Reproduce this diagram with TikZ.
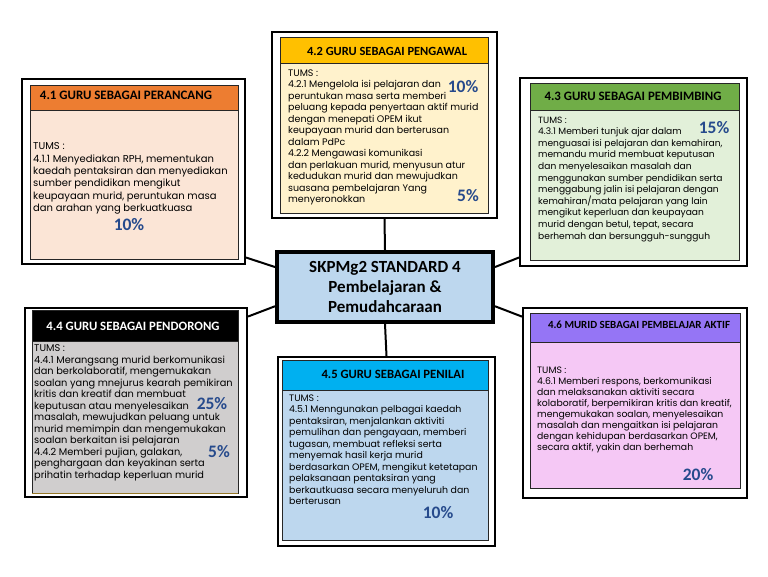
\documentclass[tikz,border=0pt]{standalone}
\usepackage{fontspec}
\setmainfont{Carlito}
\newfontfamily\bodyf{Poppins}
\usetikzlibrary{calc}
\definecolor{orangeH}{HTML}{ED7D31}
\definecolor{orangeB}{HTML}{FBE5D6}
\definecolor{goldH}{HTML}{FFC000}
\definecolor{goldB}{HTML}{FFF2CC}
\definecolor{greenH}{HTML}{70AD47}
\definecolor{greenB}{HTML}{E2F0D9}
\definecolor{grayB}{HTML}{D0CECE}
\definecolor{cyanH}{HTML}{00B0F0}
\definecolor{blueB}{HTML}{BDD7EE}
\definecolor{purpH}{HTML}{9575F5}
\definecolor{pinkB}{HTML}{F5C8F5}
\definecolor{pct}{HTML}{264A8C}
\definecolor{edge}{HTML}{262626}
\newcommand{\fitw}[2]{\resizebox{#1}{!}{#2}}
\tikzset{
  outerframe/.style={draw=black, line width=2pt, rectangle, inner sep=0pt},
  innerbox/.style={draw=edge, line width=0.9pt},
  headtxt/.style={font=\bfseries\fontsize{12}{14}\selectfont, inner sep=0pt},
  bodytxt/.style={font=\bodyf\fontsize{10}{11.6}\selectfont, align=left, anchor=north west, inner sep=0pt},
  pcttxt/.style={font=\bfseries\fontsize{17.5}{17.5}\selectfont, text=pct, inner sep=0pt},
  link/.style={draw=black, line width=2pt},
}
\begin{document}
\begin{tikzpicture}[x=1pt,y=-1pt]
\useasboundingbox (0,0) rectangle (768,576);
\fill[white] (0,0) rectangle (768,576);

% ---------- outer frames ----------
\node[outerframe, minimum width=223pt, minimum height=185pt] (o1) at (133.5,171.5) {};
\node[outerframe, minimum width=225pt, minimum height=186pt] (o2) at (384.5,125) {};
\node[outerframe, minimum width=227pt, minimum height=188pt] (o3) at (633.5,172) {};
\node[outerframe, minimum width=222pt, minimum height=189pt] (o4) at (136,402.5) {};
\node[outerframe, minimum width=217pt, minimum height=189pt] (o5) at (386.5,451.5) {};
\node[outerframe, minimum width=224pt, minimum height=190pt] (o6) at (635,403) {};

% ---------- inner boxes ----------
\draw[innerbox, fill=orangeB] (30,85) rectangle (238,259);
\draw[innerbox, fill=orangeH] (30,85) rectangle (238,110);
\draw[innerbox, fill=goldB] (280,37) rectangle (488,213);
\draw[innerbox, fill=goldH] (280,37) rectangle (488,63);
\draw[innerbox, fill=greenB] (530,83) rectangle (739,260);
\draw[innerbox, fill=greenH] (530,83) rectangle (739,110);
\draw[innerbox, fill=grayB] (32,310) rectangle (238,493);
\draw[innerbox, fill=black] (32,310) rectangle (238,341);
\draw[line width=1pt, draw={rgb,255:red,150;green,120;blue,40}] (32,493) -- (238,493);
\draw[innerbox, fill=blueB] (282,360) rectangle (488,540);
\draw[innerbox, fill=cyanH] (282,360) rectangle (488,390);
\draw[innerbox, fill=pinkB] (530,313) rectangle (740,488);
\draw[innerbox, fill=purpH] (530,313) rectangle (740,342);

% ---------- center ----------
\node[draw=black, line width=4pt, fill=blueB, minimum width=216pt, minimum height=70pt, inner sep=0pt,
      font=\bfseries\fontsize{17}{20}\selectfont, align=center] (c) at (385,287)
      {SKPMg2 STANDARD 4\\Pembelajaran \&\\Pemudahcaraan};

% ---------- connectors ----------
\draw[link] (c.north) -- (o2.south);
\draw[link] (c.south) -- (o5.north);
\draw[link] ($(c.north west)!0.23!(c.south west)$) -- ($(o1.north east)!0.96!(o1.south east)$);
\draw[link] ($(c.north west)!0.76!(c.south west)$) -- ($(o4.north east)!0.05!(o4.south east)$);
\draw[link] ($(c.north east)!0.23!(c.south east)$) -- ($(o3.north west)!0.95!(o3.south west)$);
\draw[link] ($(c.north east)!0.76!(c.south east)$) -- ($(o6.north west)!0.05!(o6.south west)$);

% ---------- headers ----------
\node[headtxt] (h1) at (126,95) {\fitw{172pt}{4.1 GURU SEBAGAI PERANCANG}};
\node[headtxt] (h2) at (387,51) {\fitw{160pt}{4.2 GURU SEBAGAI PENGAWAL}};
\node[headtxt] (h3) at (633,96) {\fitw{177pt}{4.3 GURU SEBAGAI PEMBIMBING}};
\node[headtxt, text=white] (h4) at (133,326) {\fitw{173pt}{4.4 GURU SEBAGAI PENDORONG}};
\node[headtxt] (h5) at (393,374) {\fitw{143pt}{4.5 GURU SEBAGAI PENILAI}};
\node[headtxt] (h6) at (639,325) {\fitw{182pt}{4.6 MURID SEBAGAI PEMBELAJAR AKTIF}};

% ---------- bodies ----------
\node[bodytxt, font=\bodyf\fontsize{10}{12.4}\selectfont] (b1) at (33,142.5) {TUMS :\\
4.1.1 Menyediakan RPH, mementukan\\
kaedah pentaksiran dan menyediakan\\
sumber pendidikan mengikut\\
keupayaan murid, peruntukan masa\\
dan arahan yang berkuatkuasa};

\node[bodytxt, font=\bodyf\fontsize{9.5}{11.5}\selectfont] (b2) at (288,69.5) {TUMS :\\
4.2.1 Mengelola isi pelajaran dan\\
peruntukan masa serta memberi\\
peluang kepada penyertaan aktif murid\\
dengan menepati OPEM ikut\\
keupayaan murid dan berterusan\\
dalam PdPc\\
4.2.2 Mengawasi komunikasi\\
dan perlakuan murid, menyusun atur\\
kedudukan murid dan mewujudkan\\
suasana pembelajaran Yang\\
menyeronokkan};

\node[bodytxt, font=\bodyf\fontsize{9.1}{11.6}\selectfont] (b3) at (538,116.5) {TUMS :\\
4.3.1 Memberi tunjuk ajar dalam\\
menguasai isi pelajaran dan kemahiran,\\
memandu murid membuat keputusan\\
dan menyelesaikan masalah dan\\
menggunakan sumber pendidikan serta\\
menggabung jalin isi pelajaran dengan\\
kemahiran/mata pelajaran yang lain\\
mengikut keperluan dan keupayaan\\
murid dengan betul, tepat, secara\\
berhemah dan bersungguh-sungguh};

\node[bodytxt, font=\bodyf\fontsize{9.8}{11.5}\selectfont] (b4) at (34,344.5) {TUMS :\\
4.4.1 Merangsang murid berkomunikasi\\
dan berkolaboratif, mengemukakan\\
soalan yang mnejurus kearah pemikiran\\
kritis dan kreatif dan membuat\\
keputusan atau menyelesaikan\\
masalah, mewujudkan peluang untuk\\
murid memimpin dan mengemukakan\\
soalan berkaitan isi pelajaran\\
4.4.2 Memberi pujian, galakan,\\
penghargaan dan keyakinan serta\\
prihatin terhadap keperluan murid};

\node[bodytxt, font=\bodyf\fontsize{9.4}{11.5}\selectfont] (b5) at (289,394.5) {TUMS :\\
4.5.1 Menngunakan pelbagai kaedah\\
pentaksiran, menjalankan aktiviti\\
pemulihan dan pengayaan, memberi\\
tugasan, membuat refleksi serta\\
menyemak hasil kerja murid\\
berdasarkan OPEM, mengikut ketetapan\\
pelaksanaan pentaksiran yang\\
berkautkuasa secara menyeluruh dan\\
berterusan};

\node[bodytxt, font=\bodyf\fontsize{9.3}{11.1}\selectfont] (b6) at (537,366.5) {TUMS :\\
4.6.1 Memberi respons, berkomunikasi\\
dan melaksanakan aktiviti secara\\
kolaboratif, berpemikiran kritis dan kreatif,\\
mengemukakan soalan, menyelesaikan\\
masalah dan mengaitkan isi pelajaran\\
dengan kehidupan berdasarkan OPEM,\\
secara aktif, yakin dan berhemah};

% ---------- percentages ----------
\node[pcttxt] (p1) at (129,225) {10\%};
\node[pcttxt] (p2a) at (463,87) {10\%};
\node[pcttxt] (p2b) at (468,196) {5\%};
\node[pcttxt] (p3) at (714,128) {15\%};
\node[pcttxt] (p4a) at (212,404) {25\%};
\node[pcttxt] (p4b) at (219,452) {5\%};
\node[pcttxt] (p5) at (438,513) {10\%};
\node[pcttxt] (p6) at (698,475) {20\%};
\end{tikzpicture}
\end{document}
